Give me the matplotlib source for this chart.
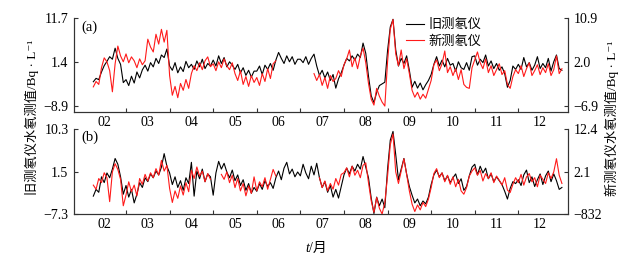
import numpy as np
import matplotlib.pyplot as plt

plt.rcParams['font.family'] = ['Liberation Serif', 'Noto Sans CJK SC', 'DejaVu Sans']
plt.rcParams['font.size'] = 10

nan = np.nan

# month labels, placed at month centres (x in fractional months)
months = ['02', '03', '04', '05', '06', '07', '08', '09', '10', '11', '12']
month_pos = [2, 3, 4, 5, 6, 7, 8, 9, 10, 11, 12]

# sampling: 16 samples per month, from early Feb to the end of Dec
t = 1.75 + np.arange(173) / 16

# (a) old radon meter, left axis
a_old = [-3.3, -2.5, -2.8, -1.0, 0.5, 1.5, 2.6, 2.0, 4.6, 2.2, 0.8, -3.5,
         -2.8, -4.2, -2.0, -3.6, -1.0, -2.4, -0.5, 0.6, -0.8, 1.2, 0.2, 2.2, 1.0, 3.0, 2.4, 4.4,
         0.4, -0.6, 1.2, -1.2, 0.2, -0.9, 1.5, 0.0, 0.8, -0.4, 1.6, 0.2, 2.0, -0.2, 1.0, 0.4,
         1.8, 0.4, 2.8, 1.0, 2.4, 0.2, 1.4, 0.6, -0.4, 0.8, -1.2, 0.0, -1.8, -0.6, -2.2, -0.8,
         -0.8, 0.4, -1.6, 0.6, -0.4, 1.0, -0.6, 1.8, 3.6, 2.2, 1.0, 2.8, 1.4, 2.6, 0.8, 2.0,
         2.0, 1.2, 2.6, 0.8, 2.2, 3.2, 0.4, -1.8, -0.6, -2.4, -1.0, -3.0, -1.6, -4.8, -2.6, -1.2,
         0.6, 2.2, 1.6, 2.8, 1.8, 3.2, 2.4, 5.8, 3.4, -2.0, -6.6, -8.2, -5.8, -4.2, -3.8, -3.4,
         4.0, 9.6, 11.4, 4.2, 0.4, 2.2, 1.0, 2.8, -0.6, -4.6, -3.2, -4.8, -3.6, -5.2, -4.0, -3.0,
         -1.6, 0.8, 2.6, 0.4, 1.8, 0.2, 2.2, 0.6, 1.0, -0.8, 1.4, 0.0, -0.4, 1.2, -0.6, 2.6,
         2.8, 0.6, 2.0, 1.2, 3.0, 0.4, 1.6, -0.2, 1.0, -0.6, 0.2, -1.4, -4.6, -3.0, 0.4, -0.4,
         0.8, -0.4, 2.4, 0.2, 1.2, -0.6, 0.6, 2.6, -0.2, 1.0, 0.0, 2.2, -0.8, 1.4, 3.0, -0.2,
         -0.6]

# (a) new radon meter, right axis
a_new = [-3.1, -2.0, -2.6, 0.8, 2.8, 2.0, 0.2, -4.1, 1.6, 5.2, 3.2, 2.0,
         3.6, 1.8, 3.0, 2.2, 0.8, 2.6, 1.4, 2.2, 6.6, 5.0, 4.0, 7.6, 5.6, 8.6, 6.0, 8.4,
         -0.8, -4.8, -3.0, -5.3, -2.4, -3.8, -1.6, -3.4, -0.4, 1.2, 0.2, 1.8, 0.4, 2.2, 3.0, 1.0,
         1.6, 0.2, 2.0, 0.8, 2.6, 1.2, 0.4, 1.8, -0.4, -1.8, 0.2, -2.6, -1.0, -3.0, -0.8, -2.2,
         -1.2, -2.8, -0.4, -2.0, 0.6, -1.4, 1.6, 2.2, nan, nan, nan, nan, nan, nan, nan, nan,
         nan, nan, nan, nan, nan, -0.4, -1.8, -0.6, -2.8, -1.2, -3.4, -0.8, -2.0, -1.4, 0.2, -1.0,
         1.4, 2.6, 4.4, 1.0, 2.8, 0.6, 3.2, 4.8, 1.8, -2.4, -5.6, -6.8, -3.4, -5.0, -6.2, -7.0,
         2.0, 8.6, 10.6, 3.6, 1.2, 4.4, 0.6, 2.6, -0.4, -3.8, -5.2, -4.2, -5.6, -4.6, -5.4, -3.6,
         -1.8, 1.4, 2.4, 0.2, 1.6, 4.2, -0.2, 1.0, -0.8, 0.6, -1.6, 0.4, -2.6, -3.2, -3.4, 0.8,
         2.4, 4.0, 1.8, 0.6, 2.6, -0.2, 1.2, -0.8, 0.4, 1.6, -0.6, 0.2, -2.6, -3.4, -1.0, 0.4,
         -0.4, 1.2, -1.0, 0.6, 1.8, -0.8, 0.2, 1.4, -0.6, 0.8, -0.2, 1.6, -0.8, 0.4, 3.2, -0.4,
         0.6]

# (b) old radon meter, left axis
b_old = [-3.6, -2.2, -2.8, 0.4, -0.8, 1.2, 0.2, 2.0, 4.2, 3.0, 0.4, -3.2,
         -1.4, -3.8, -2.2, -5.0, -3.2, -0.8, -1.8, 0.2, -0.6, 1.0, 0.2, 1.6, 0.8, 2.4, 5.2, 2.6,
         1.2, -1.2, 0.4, -1.8, -0.4, -2.4, 0.2, -1.0, 3.4, -3.6, 1.6, 0.0, 2.0, -0.6, 1.0, 0.4,
         -3.4, 1.2, 3.6, 2.0, 3.2, 1.4, 0.2, 1.8, -0.4, 0.8, -1.4, -0.2, -2.4, -1.0, -3.0, -1.8,
         -2.6, -1.0, -2.2, -0.4, -1.6, -0.8, -2.0, 0.2, 1.6, -0.2, 2.2, 3.4, 1.0, 2.0, 0.4, 1.4,
         0.6, 3.0, 1.2, 0.0, 2.6, 0.8, 3.2, 0.2, -1.8, -0.6, -2.8, -1.4, -3.8, -2.2, -4.0, -1.6,
         0.8, 2.2, 1.0, 2.6, 1.6, 3.0, 2.0, 4.6, 2.4, 0.2, -4.0, -7.2, -3.8, -5.6, -4.2, -6.0,
         2.0, 8.0, 9.8, 5.0, -0.2, 2.0, 4.2, 1.0, -1.6, -3.4, -5.0, -4.2, -5.6, -4.6, -5.2, -3.8,
         -1.2, 0.8, 1.8, 0.4, 1.2, -0.4, 0.6, -0.8, 0.2, 1.0, -1.0, 0.0, -2.4, -1.6, 0.6, 2.4,
         3.0, 0.8, 2.6, 1.2, 2.2, 0.0, 1.0, -0.6, 0.4, -0.4, -1.2, -2.6, -4.2, -2.0, -0.6, -1.0,
         -0.2, -1.4, 0.8, 1.8, -0.8, 0.4, -1.6, -0.2, 1.0, -1.2, 0.6, 1.6, -0.6, 1.0, -0.4, -2.2,
         -1.8]

# (b) new radon meter, right axis
b_new = [-1.2, -2.2, 0.4, -0.6, 1.8, 0.6, -5.2, 2.0, 4.0, 2.6, 0.2, -6.2,
         -3.6, -0.4, -2.8, -1.2, -3.8, 0.4, -1.0, 1.4, -0.2, 1.8, 0.6, 2.8, 1.2, 4.8, 2.2, 3.6,
         -2.0, -5.4, -2.6, -4.4, -1.4, -3.6, -0.6, -2.8, 2.4, 0.4, 3.2, 1.0, 2.2, -0.4, 1.6, 0.2,
         nan, nan, nan, 1.4, 0.2, 2.0, -0.6, 1.2, -1.8, 0.4, -2.6, -0.8, -3.8, -1.4, -3.2, 0.8,
         -2.6, -0.4, -1.6, 0.6, -2.2, 0.2, 2.6, 1.0, nan, nan, nan, nan, nan, nan, nan, nan,
         nan, nan, nan, nan, nan, nan, nan, 0.6, -1.8, -0.2, -2.6, -0.8, -2.2, 0.4, -1.2, 1.4,
         1.8, 3.0, 0.8, 3.4, 1.2, 2.4, 0.6, 3.6, 4.2, -0.6, -5.0, -7.8, -4.2, -6.8, -8.2, -5.4,
         1.0, 8.6, 11.2, 2.0, -0.8, 2.2, 5.2, 1.4, -2.6, -5.8, -7.6, -6.0, -7.2, -5.4, -6.4, -4.6,
         -1.8, 1.6, 2.8, 0.6, 1.8, -0.4, 1.2, -1.0, 0.8, -1.6, 0.2, -2.6, -3.4, -1.8, 1.0, 2.2,
         3.0, 1.2, 2.4, -0.2, 1.6, 0.4, 1.8, -0.6, 1.0, 0.0, -1.2, 0.6, -2.4, -3.0, -1.0, 0.6,
         -0.6, 1.4, -1.2, 0.8, 1.6, -0.4, 0.6, -1.6, 1.2, 0.2, -0.8, 1.8, 0.4, 2.0, 5.2, 1.2,
         -0.8]

# tick values and their printed labels
a_left_ticks, a_left_labels = [-8.9, 1.4, 11.7], ['\u22128.9', '1.4', '11.7']
a_right_ticks, a_right_labels = [-6.9, 2.0, 10.9], ['\u22126.9', '2.0', '10.9']
b_left_ticks, b_left_labels = [-7.3, 1.5, 10.3], ['\u22127.3', '1.5', '10.3']
b_right_ticks, b_right_labels = [-8.2, 2.1, 12.4], ['\u2212832', '2.1', '12.4']

fig = plt.figure(figsize=(6.43, 2.60), dpi=100)
ax_a = fig.add_axes([0.1151, 0.5692, 0.7683, 0.3615])
ax_b = fig.add_axes([0.1151, 0.1769, 0.7683, 0.3269])

spine_col = '#333333'


def style_panel(ax, tw, lticks, llabels, lylim, rticks, rlabels, rylim, tag):
    ax.set_xlim(1.307, 12.64)
    ax.set_ylim(*lylim)
    tw.set_ylim(*rylim)
    ax.set_yticks(lticks)
    ax.set_yticklabels(llabels)
    tw.set_yticks(rticks)
    tw.set_yticklabels(rlabels)
    ax.set_xticks(np.arange(2.5, 12, 1))
    ax.set_xticklabels([])
    ax.set_xticks(month_pos, minor=True)
    ax.set_xticklabels(months, minor=True)
    ax.tick_params(axis='x', which='major', direction='in', length=3, width=0.8, color=spine_col)
    ax.tick_params(axis='x', which='minor', length=0, pad=3)
    ax.tick_params(axis='y', direction='in', length=3, width=0.8, pad=4, color=spine_col)
    tw.tick_params(axis='y', direction='in', length=3, width=0.8, pad=4, color=spine_col)
    for a in (ax, tw):
        a.spines['top'].set_visible(False)
        for s in ('left', 'right', 'bottom'):
            a.spines[s].set_color(spine_col)
            a.spines[s].set_linewidth(0.8)
    ax.text(0.015, 0.90, tag, transform=ax.transAxes, ha='left', va='center', fontsize=10.5)


tw_a = ax_a.twinx()
l1, = ax_a.plot(t, a_old, color='black', lw=0.8)
l2, = tw_a.plot(t, a_new, color='#ff1a1a', lw=0.8)
style_panel(ax_a, tw_a, a_left_ticks, a_left_labels, (-10.42, 11.7),
            a_right_ticks, a_right_labels, (-8.21, 10.9), '(a)')

tw_b = ax_b.twinx()
ax_b.plot(t, b_old, color='black', lw=0.8)
tw_b.plot(t, b_new, color='#ff1a1a', lw=0.8)
style_panel(ax_b, tw_b, b_left_ticks, b_left_labels, (-7.3, 10.3),
            b_right_ticks, b_right_labels, (-8.2, 12.4), '(b)')

tw_a.legend([l1, l2], ['旧测氡仪', '新测氡仪'], loc='upper left',
            bbox_to_anchor=(406 / 643, 1 - 19 / 260), bbox_transform=fig.transFigure,
            frameon=False, fontsize=9.5, handlelength=1.4, handletextpad=0.3,
            labelspacing=0.3, borderpad=0, borderaxespad=0)

fig.text(32 / 643, 1 - 117 / 260, '旧测氡仪水氡测值/Bq · L\u207b\u00b9', rotation=90,
         ha='center', va='center', fontsize=9.5)
fig.text(612 / 643, 1 - 118 / 260, '新测氡仪水氡测值/Bq · L\u207b\u00b9', rotation=90,
         ha='center', va='center', fontsize=9.5)
fig.text(309 / 643, 1 - 248 / 260, 't', style='italic', ha='right', va='center', fontsize=10)
fig.text(309 / 643, 1 - 248 / 260, '/月', ha='left', va='center', fontsize=10)

fig.savefig('out.png', dpi=100)
